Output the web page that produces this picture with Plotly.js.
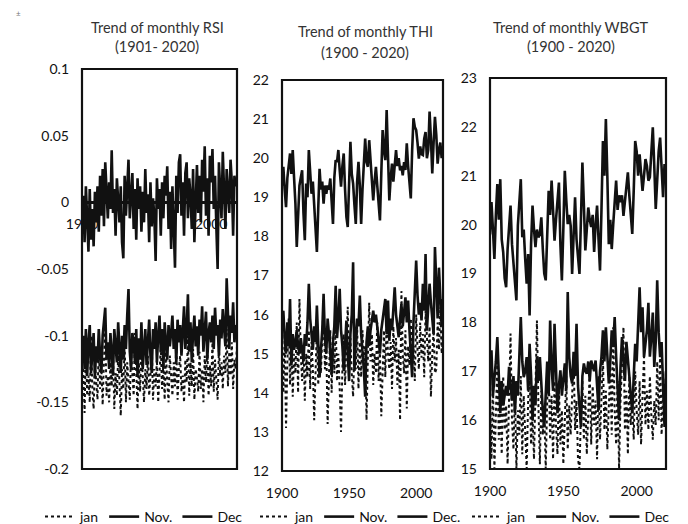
<!DOCTYPE html>
<html>
<head>
<meta charset="utf-8">
<script src="https://cdn.plot.ly/plotly-3.0.1.min.js"></script>
<style>
html,body{margin:0;padding:0;background:#fff;}
#chart{width:688px;height:524px;}
</style>
</head>
<body>
<div id="chart"></div>
<script>
// ---------- DATA ----------
const rsiStart = 1901;   // RSI series: 1901-2020
const thiStart = 1900;   // THI series: 1900-2020
const wbgtStart = 1900;  // WBGT series: 1900-2020

const seriesNames = ["jan", "Nov.", "Dec"];
const seriesNamesTHI = ["jan", "Nov.", "Dec."];
const seriesNamesWBGT = ["jan", "Nov.", "Dec"];

const rsiJan = [
-0.125,-0.158,-0.110,-0.145,-0.130,-0.150,-0.100,-0.140,-0.155,-0.120,
-0.135,-0.148,-0.105,-0.140,-0.125,-0.152,-0.118,-0.095,-0.145,-0.130,
-0.150,-0.120,-0.138,-0.110,-0.155,-0.128,-0.145,-0.115,-0.135,-0.160,
-0.125,-0.140,-0.105,-0.150,-0.120,-0.135,-0.148,-0.112,-0.130,-0.145,
-0.098,-0.138,-0.155,-0.120,-0.142,-0.110,-0.135,-0.150,-0.125,-0.140,
-0.115,-0.145,-0.130,-0.105,-0.148,-0.125,-0.138,-0.118,-0.150,-0.128,
-0.108,-0.140,-0.120,-0.148,-0.112,-0.135,-0.150,-0.115,-0.130,-0.145,
-0.120,-0.138,-0.105,-0.148,-0.125,-0.115,-0.142,-0.130,-0.150,-0.118,
-0.135,-0.100,-0.145,-0.120,-0.138,-0.110,-0.148,-0.125,-0.132,-0.142,
-0.112,-0.140,-0.125,-0.150,-0.115,-0.135,-0.108,-0.145,-0.122,-0.138,
-0.105,-0.142,-0.118,-0.135,-0.148,-0.110,-0.130,-0.120,-0.140,-0.115,
-0.128,-0.095,-0.138,-0.112,-0.130,-0.105,-0.140,-0.118,-0.125,-0.108];

const rsiNov = [
-0.100,-0.125,-0.095,-0.130,-0.105,-0.092,-0.128,-0.110,-0.098,-0.132,
-0.108,-0.120,-0.095,-0.115,-0.128,-0.100,-0.088,-0.079,-0.118,-0.105,
-0.125,-0.098,-0.112,-0.130,-0.095,-0.108,-0.120,-0.090,-0.115,-0.128,
-0.100,-0.118,-0.092,-0.110,-0.085,-0.065,-0.112,-0.125,-0.098,-0.105,
-0.120,-0.095,-0.130,-0.102,-0.118,-0.090,-0.125,-0.108,-0.095,-0.122,
-0.100,-0.088,-0.115,-0.128,-0.095,-0.110,-0.090,-0.120,-0.100,-0.085,
-0.112,-0.095,-0.125,-0.090,-0.105,-0.118,-0.092,-0.108,-0.098,-0.085,
-0.110,-0.095,-0.120,-0.088,-0.105,-0.092,-0.115,-0.100,-0.078,-0.110,
-0.095,-0.069,-0.112,-0.090,-0.120,-0.098,-0.085,-0.108,-0.093,-0.115,
-0.088,-0.100,-0.078,-0.112,-0.095,-0.082,-0.118,-0.098,-0.090,-0.105,
-0.085,-0.110,-0.079,-0.100,-0.092,-0.115,-0.088,-0.102,-0.080,-0.095,
-0.108,-0.057,-0.090,-0.110,-0.085,-0.098,-0.075,-0.105,-0.092,-0.100];

const rsiDec = [
0.005,-0.030,0.012,-0.020,-0.037,0.010,-0.028,-0.005,-0.033,0.008,
-0.015,0.012,-0.022,0.020,-0.010,0.025,-0.018,0.030,0.002,-0.012,
0.015,-0.005,0.039,-0.008,0.010,-0.025,0.018,-0.002,-0.015,0.012,
-0.030,-0.042,0.020,-0.010,0.015,0.032,-0.012,0.005,0.022,-0.020,
0.010,-0.028,0.018,-0.005,0.012,-0.022,0.008,-0.015,0.025,-0.008,
0.006,-0.030,0.015,-0.018,0.003,-0.010,-0.044,0.018,-0.005,0.010,
-0.025,0.015,-0.012,0.020,0.005,0.027,-0.020,0.008,-0.035,0.012,
-0.015,-0.049,0.020,-0.008,0.030,0.036,-0.010,0.015,-0.025,0.022,
0.030,-0.012,0.018,0.005,-0.020,0.025,-0.030,0.010,0.028,-0.008,
0.020,-0.015,0.032,0.008,0.042,-0.010,0.018,-0.025,0.035,0.015,
0.040,-0.005,0.020,-0.018,-0.050,0.030,0.010,-0.012,0.038,0.005,
-0.020,0.025,0.010,-0.008,0.032,0.015,-0.025,0.020,0.012,0.018];

const thiJan = [
15.2,14.0,15.5,13.1,14.8,15.9,14.2,15.4,13.9,15.0,
14.5,15.8,14.0,16.4,15.0,14.3,15.2,13.8,15.0,14.4,
15.6,14.1,15.3,14.6,13.3,14.8,15.7,14.2,15.1,14.5,
15.5,16.3,14.6,15.2,13.2,14.7,15.6,14.0,15.4,14.5,
15.8,14.3,15.0,14.1,13.0,14.6,15.5,14.2,15.1,16.2,
14.8,15.4,14.5,13.9,15.2,14.6,15.7,14.1,15.3,14.4,
15.6,14.7,15.2,13.3,14.9,16.3,14.8,15.5,14.2,15.0,
14.5,15.8,14.3,15.1,13.4,14.8,15.6,14.4,15.9,15.0,
14.6,15.3,14.1,15.7,14.8,15.4,14.2,15.1,13.3,16.6,
15.0,14.5,15.6,13.6,15.2,14.7,15.9,14.8,15.2,14.3,
16.0,15.1,14.6,15.8,14.9,15.5,14.4,16.1,15.3,14.8,
15.7,13.9,15.0,15.6,14.5,14.6,15.8,15.1,16.2,15.0,
15.4];

const thiNov = [
15.6,16.1,15.4,15.0,15.8,15.2,16.4,14.7,15.5,15.1,
15.3,15.6,15.2,15.0,15.4,15.1,14.8,15.5,15.2,15.8,
16.79,15.9,15.4,15.1,15.7,15.3,16.23,15.4,14.39,15.1,
15.6,16.53,15.4,15.0,15.9,15.5,15.1,14.48,15.3,15.7,
16.74,15.4,15.9,16.66,15.6,15.2,14.56,15.3,15.85,15.0,
14.3,15.5,16.0,17.34,14.56,15.4,15.9,15.7,16.49,15.5,
15.1,14.6,13.9,15.3,15.7,15.2,15.6,15.9,16.1,15.8,
16.0,15.7,15.3,15.0,15.6,15.9,16.2,16.4,15.5,16.36,
15.33,15.9,15.6,16.2,16.7,16.0,15.6,15.42,15.9,16.27,
15.7,16.2,16.44,15.8,16.36,15.6,15.0,14.4,15.8,16.87,
17.38,16.5,16.0,16.3,15.85,16.79,16.1,17.55,15.59,16.2,
16.79,16.3,15.8,15.5,17.73,16.53,15.9,17.2,16.27,15.7,
16.4];

const thiDec = [
19.3,19.78,19.2,18.75,19.5,19.9,20.12,19.6,20.21,19.5,
18.84,17.73,18.6,19.3,19.5,19.69,18.6,17.9,19.35,19.0,
20.21,19.5,19.09,19.4,18.84,18.4,17.6,18.7,19.73,19.2,
19.4,18.84,19.3,19.09,19.3,19.2,19.48,18.9,18.32,19.5,
19.95,19.9,20.21,19.7,19.27,19.8,20.12,19.2,18.5,18.24,
19.5,20.42,19.6,19.35,18.8,18.32,19.4,19.91,19.3,18.32,
19.2,19.9,20.5,19.9,19.78,20.46,19.9,19.3,18.92,19.4,
19.78,19.3,18.7,18.41,19.6,20.72,20.2,19.95,21.23,20.1,
18.92,19.5,19.86,19.4,19.9,20.21,19.8,20.0,19.69,19.8,
19.56,19.9,19.7,20.38,19.8,19.3,18.97,20.2,21.02,20.8,
20.72,20.4,19.99,20.3,20.1,20.08,20.5,20.67,20.0,20.21,
21.19,20.5,19.61,20.4,21.06,20.6,19.86,20.21,20.4,20.0,
20.3];

const wbgtJan = [
16.5,15.2,16.8,15.0,16.1,17.2,15.6,16.4,15.3,16.9,
15.8,16.3,15.1,16.7,17.77,16.0,15.4,16.6,15.0,16.2,
15.7,16.9,15.3,16.5,15.9,15.0,16.4,17.0,15.5,16.1,
15.2,16.8,18.04,16.3,15.1,16.6,15.7,16.2,15.0,16.4,
17.1,15.6,16.5,15.2,16.8,15.9,15.3,16.7,15.5,16.2,
15.1,16.0,16.9,15.4,16.3,15.7,16.6,17.29,15.8,16.4,
15.2,15.0,16.1,16.8,15.6,16.5,15.3,16.2,17.0,15.5,
16.7,15.9,16.4,15.2,16.9,15.6,16.3,17.3,15.8,16.6,
15.4,16.1,17.1,15.7,17.9,16.2,15.5,16.8,15.0,16.4,
17.2,17.9,15.8,16.6,15.3,16.9,15.9,16.3,15.6,17.0,
16.2,15.7,16.8,15.5,16.5,17.3,15.9,16.6,15.8,16.9,
16.1,15.6,16.4,15.9,17.2,16.0,17.4,15.7,16.6,16.2,
17.0];

const wbgtNov = [
16.9,17.43,16.5,16.82,17.2,17.7,16.9,16.14,16.8,16.3,
16.51,16.7,16.5,17.09,16.7,16.4,16.9,16.14,16.8,16.5,
17.3,18.11,17.2,16.88,17.0,17.29,16.6,17.56,16.9,16.0,
16.7,16.3,17.29,16.8,17.29,16.6,16.2,15.86,16.7,17.2,
16.5,18.04,17.1,16.6,17.97,16.8,16.14,16.7,17.02,16.5,
16.9,17.16,16.6,18.62,17.3,16.9,16.75,17.4,16.9,17.97,
16.7,16.2,15.86,16.9,17.16,17.0,16.95,17.2,16.8,17.22,
17.1,17.0,17.22,16.7,16.2,17.0,17.3,17.84,17.2,17.9,
17.4,16.75,17.2,17.84,17.5,18.11,17.3,16.6,16.0,17.1,
17.7,17.2,16.8,17.6,17.29,16.9,16.5,16.14,16.9,17.56,
17.2,17.9,18.72,17.8,18.31,17.29,17.6,17.84,18.4,17.3,
17.7,18.2,17.09,17.6,18.86,17.8,17.29,17.6,16.7,15.86,
17.0];

const wbgtDec = [
19.8,20.46,19.9,19.3,20.2,20.83,20.1,20.93,19.7,19.44,
18.9,18.72,19.5,20.0,20.39,19.6,19.2,18.79,18.45,19.98,
20.5,20.93,19.74,19.9,19.3,18.79,19.4,18.14,19.6,20.39,
19.9,19.54,19.9,19.74,19.8,20.15,19.5,19.0,18.86,19.8,
20.69,20.2,20.9,20.3,19.67,20.1,20.5,20.86,19.6,18.86,
19.9,21.1,20.5,20.01,20.2,19.98,18.99,19.8,20.56,19.7,
19.3,18.99,20.1,21.27,20.4,19.47,19.9,20.35,20.1,19.95,
20.2,19.44,20.0,20.39,19.7,19.06,20.3,21.71,21.0,22.16,
21.0,19.6,20.1,19.5,20.0,20.4,20.9,20.3,20.6,20.46,
20.6,20.18,20.5,20.8,21.07,20.6,20.2,19.81,20.7,21.71,
21.5,21.0,21.44,21.1,20.69,21.0,21.34,21.2,20.9,20.97,
21.5,21.99,21.2,20.32,20.9,21.5,21.78,21.0,20.56,21.24,
20.9];

const rsiTickVals = [0.1, 0.05, 0, -0.05, -0.1, -0.15, -0.2];
const rsiTickText = ["0.1", "0.05", "0", "-0.05", "-0.1", "-0.15", "-0.2"];
const thiTickVals = [22, 21, 20, 19, 18, 17, 16, 15, 14, 13, 12];
const wbgtTickVals = [23, 22, 21, 20, 19, 18, 17, 16, 15];
const rsiYearTicks = [1900, 2000];
const yearTicks = [1900, 1950, 2000];

const titles = [
  ["Trend of monthly RSI", "(1901- 2020)"],
  ["Trend of monthly THI", "(1900 - 2020)"],
  ["Trend of monthly WBGT", "(1900 - 2020)"]
];

// ---------- BUILD ----------
function years(start, n){ const a=[]; for(let i=0;i<n;i++) a.push(start+i); return a; }

const FONT = "Lato, 'Open Sans', sans-serif";
const W = 688, H = 524;
const px = v => v / W;
const py = v => 1 - v / H;

const dotLine = {color:"#111", width:2, dash:"dot"};
const solidLine = {color:"#111", width:2.6};

function mk(x, y, name, line, xa, ya, leg){
  return {type:"scatter", mode:"lines", x:x, y:y, name:name, line:line,
          xaxis:xa, yaxis:ya, legend:leg, hoverinfo:"skip"};
}

const xr = years(rsiStart, rsiJan.length);
const xt = years(thiStart, thiJan.length);
const xw = years(wbgtStart, wbgtJan.length);

const traces = [
  mk(xr, rsiJan, seriesNames[0], dotLine, "x", "y", "legend"),
  mk(xr, rsiNov, seriesNames[1], solidLine, "x", "y", "legend"),
  mk(xr, rsiDec, seriesNames[2], solidLine, "x", "y", "legend"),
  mk(xt, thiJan, seriesNamesTHI[0], dotLine, "x2", "y2", "legend2"),
  mk(xt, thiNov, seriesNamesTHI[1], solidLine, "x2", "y2", "legend2"),
  mk(xt, thiDec, seriesNamesTHI[2], solidLine, "x2", "y2", "legend2"),
  mk(xw, wbgtJan, seriesNamesWBGT[0], dotLine, "x3", "y3", "legend3"),
  mk(xw, wbgtNov, seriesNamesWBGT[1], solidLine, "x3", "y3", "legend3"),
  mk(xw, wbgtDec, seriesNamesWBGT[2], solidLine, "x3", "y3", "legend3")
];

const tickFont = {family:FONT, size:14, color:"#111"};

// panel pixel boxes
const P1 = {l:82, r:237, t:69, b:469};
const P2 = {l:282, r:443, t:80, b:471};
const P3 = {l:490, r:666, t:78, b:469};

const p1yDom = [py(P1.b), py(P1.t)];
const zeroFrac = (0 - (-0.2)) / 0.3;
const p1xPos = p1yDom[0] + zeroFrac * (p1yDom[1] - p1yDom[0]);

function yax(dom, range, tv, tt){
  const a = {domain:dom, range:range, tickvals:tv, showgrid:false, zeroline:false,
    showline:false, ticks:"", tickfont:tickFont, ticklabelstandoff:12, fixedrange:true};
  if (tt) a.ticktext = tt;
  return a;
}
function xax(dom, range, tv){
  return {domain:dom, range:range, tickvals:tv, showgrid:false, zeroline:false,
    showline:false, ticks:"", tickfont:tickFont, ticklabelstandoff:12, fixedrange:true};
}

const legFont = {family:FONT, size:14, color:"#111"};
function leg(xpx){
  return {orientation:"h", x:px(xpx), xanchor:"left", y:py(517), yanchor:"middle",
          font:legFont, bgcolor:"rgba(0,0,0,0)", tracegroupgap:0,
          itemclick:false, itemdoubleclick:false};
}

const titleFont = {family:FONT, size:14.5, color:"#333"};
function ann(text, xpx, ypx, font){
  return {text:text, x:px(xpx), y:py(ypx), xref:"paper", yref:"paper", showarrow:false,
          xanchor:"center", yanchor:"middle", font:font};
}

const layout = {
  width:W, height:H, margin:{l:0,r:0,t:0,b:0,autoexpand:false},
  paper_bgcolor:"#fff", plot_bgcolor:"#fff",
  font:{family:FONT, color:"#111"},
  xaxis: Object.assign(xax([px(P1.l), px(P1.r)], [1900, 2020], rsiYearTicks),
                       {anchor:"free", position:p1xPos}),
  yaxis: Object.assign(yax(p1yDom, [-0.2, 0.1], rsiTickVals, rsiTickText),
                       {zeroline:true, zerolinecolor:"#111", zerolinewidth:2.5}),
  xaxis2: Object.assign(xax([px(P2.l), px(P2.r)], [1900, 2020], yearTicks), {anchor:"y2"}),
  yaxis2: Object.assign(yax([py(P2.b), py(P2.t)], [12, 22], thiTickVals), {anchor:"x2"}),
  xaxis3: Object.assign(xax([px(P3.l), px(P3.r)], [1900, 2020], yearTicks), {anchor:"y3"}),
  yaxis3: Object.assign(yax([py(P3.b), py(P3.t)], [15, 23], wbgtTickVals), {anchor:"x3"}),
  shapes: [
    {type:"rect", xref:"x domain", yref:"y domain", x0:0, x1:1, y0:0, y1:1, line:{color:"#111", width:2.2}, layer:"above"},
    {type:"rect", xref:"x2 domain", yref:"y2 domain", x0:0, x1:1, y0:0, y1:1, line:{color:"#111", width:2.2}, layer:"above"},
    {type:"rect", xref:"x3 domain", yref:"y3 domain", x0:0, x1:1, y0:0, y1:1, line:{color:"#111", width:2.2}, layer:"above"}
  ],
  showlegend:true,
  legend: leg(40),
  legend2: leg(255),
  legend3: leg(467),
  annotations: [
    ann(titles[0][0], 157, 28, titleFont),
    ann(titles[0][1], 157, 47, titleFont),
    ann(titles[1][0], 365, 32, titleFont),
    ann(titles[1][1], 365, 52, titleFont),
    ann(titles[2][0], 571, 27, titleFont),
    ann(titles[2][1], 571, 47, titleFont),
    ann("±", 18, 13, {family:FONT, size:8, color:"#777"})
  ]
};

Plotly.newPlot("chart", traces, layout, {staticPlot:true, displayModeBar:false});
</script>
</body>
</html>
